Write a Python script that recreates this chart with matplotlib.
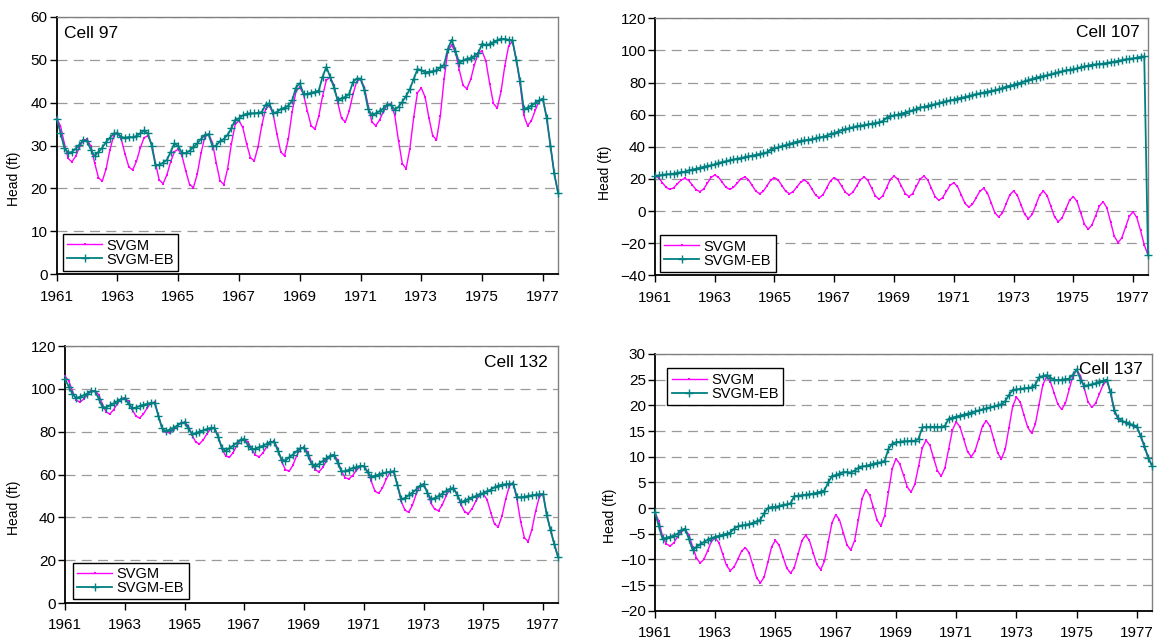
import numpy as np
import matplotlib.pyplot as plt

plt.rcParams['font.family'] = ['Liberation Sans', 'DejaVu Sans']

# sample times: 8 per year, Jan 1961 .. mid 1977
t = 1961 + np.arange(133) / 8.0

svgm_97 = [36.3, 34.6, 30.5, 27.0, 26.2, 27.5, 29.6, 31.2,
           31.5, 29.8, 25.9, 22.5, 21.7, 24.5, 28.9, 32.3,
           33.0, 31.5, 28.0, 25.0, 24.3, 26.3, 29.4, 31.8,
           32.3, 30.4, 25.9, 22.0, 21.1, 23.1, 26.2, 28.6,
           29.1, 27.6, 24.0, 20.9, 20.2, 23.3, 28.2, 32.0,
           32.7, 30.7, 26.0, 21.8, 20.9, 24.6, 30.4, 34.9,
           35.8, 34.2, 30.4, 27.2, 26.4, 29.6, 34.7, 38.5,
           39.3, 37.3, 32.6, 28.5, 27.6, 31.6, 37.8, 42.6,
           43.6, 41.9, 38.0, 34.6, 33.8, 36.8, 41.5, 45.2,
           45.9, 44.1, 40.0, 36.3, 35.5, 38.0, 41.9, 44.9,
           45.5, 43.6, 39.3, 35.5, 34.6, 35.9, 37.9, 39.4,
           39.7, 37.1, 31.1, 25.8, 24.6, 29.3, 36.6, 42.3,
           43.4, 41.3, 36.5, 32.3, 31.3, 36.8, 45.4, 52.1,
           53.4, 51.7, 47.6, 44.0, 43.2, 45.4, 48.8, 51.5,
           52.0, 49.7, 44.4, 39.8, 38.7, 42.6, 48.6, 53.2,
           54.3, 50.0, 44.5, 37.0, 34.6, 35.8, 38.2, 40.3,
           40.9, 36.5, 30.0, 23.5, 19.0]
eb_97 = [36.2, 33.0, 29.5, 28.3, 28.5, 29.3, 30.2, 31.3,
         31.0, 29.0, 27.6, 28.5, 29.5, 30.8, 31.8, 32.8,
         32.8, 32.0, 31.8, 32.0, 31.9, 32.2, 32.8, 33.5,
         32.8, 30.0, 25.5, 25.5, 26.0, 26.6, 28.5, 30.5,
         29.8, 28.3, 28.2, 28.8, 29.6, 30.5, 31.5, 32.5,
         32.6, 29.8, 30.0, 31.0, 31.5, 32.5, 34.0, 36.0,
         36.3, 37.0, 37.4, 37.5, 37.5, 37.6, 37.8, 39.5,
         39.8, 37.5, 37.8, 38.5, 38.8, 39.3, 40.5, 43.5,
         44.5, 42.0, 42.0, 42.3, 42.5, 42.8, 46.0, 48.3,
         46.0, 43.5, 40.5, 41.0, 41.3, 42.0, 44.8, 45.6,
         45.6, 43.0, 38.5, 37.0, 37.5, 38.0, 38.6, 39.5,
         39.5, 38.3, 39.0, 40.2, 41.5, 43.2, 45.5, 47.8,
         47.5, 47.0, 47.2, 47.3, 47.5, 48.2, 48.8, 52.5,
         54.6, 52.0, 49.2, 49.8, 50.2, 50.4, 50.8, 51.5,
         53.7, 53.4, 53.6, 54.0, 54.5, 54.9, 54.8, 54.6,
         54.5, 50.0, 45.0, 38.5, 38.8, 39.3, 39.9, 40.5,
         40.9, 36.5, 30.0, 23.5, 19.0]

svgm_107 = [21.8, 20.6, 17.7, 14.7, 13.5, 14.5, 16.9, 19.3,
            20.3, 19.1, 16.2, 13.3, 12.1, 13.6, 17.3, 20.9,
            22.4, 21.1, 18.0, 14.8, 13.5, 14.7, 17.4, 20.0,
            21.2, 19.6, 16.0, 12.4, 10.8, 12.3, 15.8, 19.3,
            20.8, 19.3, 15.8, 12.3, 10.8, 12.1, 15.1, 18.0,
            19.3, 17.7, 13.8, 9.9, 8.3, 10.2, 14.6, 18.9,
            20.8, 19.2, 15.4, 11.6, 10.0, 11.7, 15.6, 19.5,
            21.2, 19.1, 14.3, 9.4, 7.3, 9.5, 14.6, 19.6,
            21.8, 19.9, 15.4, 10.9, 9.0, 10.9, 15.4, 19.9,
            21.8, 19.5, 14.3, 9.0, 6.7, 8.3, 12.2, 16.0,
            17.6, 15.3, 10.1, 4.8, 2.5, 4.2, 8.3, 12.4,
            14.1, 11.4, 5.2, -1.0, -3.7, -1.3, 4.4, 10.1,
            12.5, 9.9, 3.9, -2.1, -4.7, -2.1, 3.9, 9.9,
            12.5, 9.6, 3.0, -3.7, -6.6, -4.3, 1.2, 6.7,
            9.0, 6.0, -1.2, -8.3, -11.3, -8.7, -2.8, 3.2,
            5.8, 2.0, -6.9, -15.8, -19.6, -16.7, -10.0, -3.3,
            -0.4, -4.0, -12.0, -21.0, -27.5]
eb_107 = [21.8, 22.2, 22.5, 22.8, 23.0, 23.3, 23.8, 24.2,
          24.5, 25.3, 25.8, 26.3, 27.0, 27.5, 28.0, 28.5,
          29.0, 30.0, 30.5, 31.0, 31.6, 32.1, 32.6, 33.0,
          33.5, 34.0, 34.5, 35.0, 35.5, 36.0, 36.5, 38.3,
          39.0, 39.6, 40.5, 41.0, 41.8, 42.5, 43.2, 43.6,
          44.0, 44.3, 44.8, 45.3, 45.8, 46.2, 47.0, 48.0,
          48.5, 49.5, 50.5, 51.0, 51.6, 52.2, 52.8, 53.2,
          53.5, 54.0, 54.4, 54.8, 55.3, 56.0, 58.0, 59.0,
          59.5, 60.0, 60.7, 61.3, 62.0, 62.6, 63.5, 64.5,
          64.8, 65.5, 66.0, 66.6, 67.2, 67.8, 68.4, 68.9,
          69.3, 70.0, 70.5, 71.0, 71.6, 72.2, 72.8, 73.3,
          73.8, 74.3, 74.8, 75.2, 75.8, 76.5, 77.5, 78.0,
          78.5, 79.3, 80.0, 80.8, 81.5, 82.3, 83.0, 83.6,
          84.0, 84.6, 85.2, 85.8, 86.4, 87.0, 87.6, 88.0,
          88.3, 88.8, 89.5, 90.0, 90.6, 91.0, 91.3, 91.6,
          91.8, 92.2, 92.6, 93.0, 93.5, 94.0, 94.4, 94.7,
          95.0, 95.5, 96.0, 96.3, -27.5]

svgm_132 = [105.8, 103.8, 99.0, 94.8, 93.8, 95.2, 97.3, 98.9,
            99.2, 97.3, 93.0, 89.2, 88.3, 90.2, 93.1, 95.4,
            95.8, 94.2, 90.4, 87.2, 86.4, 88.3, 91.1, 93.4,
            93.8, 87.5, 81.5, 79.8, 79.5, 80.7, 82.6, 84.1,
            84.4, 82.7, 78.6, 75.1, 74.3, 76.2, 79.0, 81.3,
            81.7, 78.0, 72.0, 68.8, 68.0, 70.2, 73.5, 76.1,
            76.6, 75.2, 71.9, 69.0, 68.3, 70.1, 72.9, 75.1,
            75.5, 72.0, 66.0, 62.3, 61.5, 64.3, 68.7, 72.0,
            72.7, 70.5, 65.8, 62.2, 61.3, 63.3, 66.4, 68.8,
            69.3, 66.8, 61.5, 58.6, 57.9, 59.5, 61.9, 63.7,
            64.1, 61.5, 56.8, 52.2, 51.2, 53.8, 57.8, 60.9,
            61.5, 55.0, 47.5, 43.5, 42.3, 45.6, 50.7, 54.7,
            55.5, 52.0, 46.5, 43.8, 43.1, 45.8, 49.9, 53.1,
            53.7, 51.0, 46.0, 42.6, 41.8, 44.1, 47.6, 50.4,
            50.9, 48.3, 42.2, 36.8, 35.6, 40.7, 48.6, 54.7,
            55.9, 48.5, 38.0, 30.5, 28.7, 34.3, 42.9, 49.6,
            50.9, 41.0, 34.0, 27.5, 21.5]
eb_132 = [104.8, 101.0, 97.5, 95.8, 96.3, 97.0, 97.8, 98.8,
          99.0, 95.5, 91.5, 91.3, 92.3, 93.2, 94.2, 95.2,
          95.6, 93.0, 91.0, 91.3, 92.0, 92.6, 93.0, 93.5,
          93.5, 87.5, 81.5, 80.3, 81.0, 81.8, 82.8, 84.0,
          84.3, 81.5, 79.0, 79.3, 80.0, 80.6, 81.3, 81.8,
          81.8, 77.5, 72.5, 71.0, 72.3, 73.5, 74.8, 76.3,
          76.5, 73.5, 71.8, 72.0, 72.8, 73.5, 74.3, 75.2,
          75.4, 71.0, 67.0, 66.5, 68.0, 69.3, 70.8, 72.3,
          72.6, 69.0, 65.0, 64.0, 65.0, 66.3, 67.5, 68.8,
          69.2, 65.5, 61.5, 61.5, 62.3, 63.0, 63.5, 64.0,
          64.0, 61.0, 59.0, 59.5, 60.0, 60.5, 61.0, 61.3,
          61.5, 55.0, 48.5, 49.0, 50.3, 51.5, 53.0, 54.8,
          55.5, 51.5, 48.5, 49.0, 50.0, 51.0, 52.3, 53.3,
          53.6, 50.5, 47.0, 47.8, 48.5, 49.3, 50.0, 50.8,
          51.3, 52.2, 53.0, 54.0, 54.8, 55.3, 55.5, 55.7,
          55.8, 49.5, 49.3, 49.6, 50.0, 50.3, 50.6, 50.8,
          50.9, 41.0, 34.0, 27.5, 21.5]

svgm_137 = [-0.9, -2.5, -5.5, -7.0, -7.4, -6.8, -5.6, -4.6,
            -4.2, -5.2, -7.5, -9.7, -10.7, -10.0, -8.3, -6.5,
            -5.8, -6.8, -9.0, -11.2, -12.2, -11.5, -10.0, -8.4,
            -7.7, -8.7, -11.2, -13.6, -14.6, -13.4, -10.5, -7.5,
            -6.3, -7.3, -9.5, -11.7, -12.7, -11.6, -9.0, -6.4,
            -5.3, -6.3, -8.7, -11.0, -12.0, -10.4, -6.7, -2.9,
            -1.3, -2.3, -4.8, -7.2, -8.2, -6.4, -2.3, 1.8,
            3.6, 2.5, 0.1, -2.4, -3.5, -1.5, 3.1, 7.6,
            9.6, 8.6, 6.4, 4.1, 3.1, 4.6, 8.2, 11.7,
            13.2, 12.2, 9.7, 7.3, 6.2, 7.8, 11.5, 15.2,
            16.8, 15.8, 13.4, 11.0, 10.0, 11.1, 13.5, 16.0,
            17.0, 15.9, 13.3, 10.7, 9.6, 11.4, 15.6, 19.8,
            21.6, 20.6, 18.1, 15.7, 14.6, 16.3, 20.1, 24.0,
            25.6, 24.6, 22.4, 20.2, 19.2, 20.4, 23.1, 25.7,
            26.9, 25.8, 23.3, 20.7, 19.6, 20.4, 22.2, 24.0,
            24.8, 22.3, 18.8, 17.3, 16.9, 16.6, 16.3, 16.0,
            15.7, 13.9, 11.9, 9.7, 8.2]
eb_137 = [-0.8, -3.5, -6.0, -5.8, -5.6, -5.4, -5.0, -4.3,
          -4.0, -6.0, -8.2, -7.6, -7.1, -6.6, -6.2, -5.9,
          -5.6, -5.4, -5.2, -5.0, -4.8, -4.0, -3.6, -3.4,
          -3.3, -3.1, -2.9, -2.6, -2.3, -1.0, 0.0, 0.2,
          0.2, 0.4, 0.6, 0.7, 0.9, 2.3, 2.4, 2.5,
          2.6, 2.7, 2.8, 3.0, 3.2, 3.4, 5.0, 6.2,
          6.4, 6.7, 7.0, 7.0, 6.9, 7.3, 7.8, 8.1,
          8.2, 8.4, 8.6, 8.8, 8.9, 9.2, 11.5, 12.5,
          12.8, 12.9, 13.0, 13.0, 13.1, 13.1, 13.5, 15.7,
          15.8, 15.8, 15.8, 15.8, 15.8, 16.0, 17.4, 17.6,
          17.8, 18.0, 18.2, 18.4, 18.6, 18.8, 19.0, 19.2,
          19.4, 19.6, 19.8, 20.0, 20.2, 20.8, 22.0, 23.0,
          23.1, 23.2, 23.3, 23.4, 23.5, 24.0, 25.5, 25.7,
          25.9, 25.4, 25.0, 24.9, 25.0, 25.1, 25.2, 26.0,
          27.0, 25.0, 23.8, 23.9, 24.1, 24.3, 24.6, 24.8,
          25.0, 22.5, 19.0, 17.5, 17.0, 16.7, 16.4, 16.2,
          15.8, 14.0, 12.0, 9.8, 8.2]

xticks = list(range(1961, 1978, 2))

panels = [
    # rect, svgm, eb, title, title pos, ha, ylim, ystep, legend anchor, legend loc, ylabel x, ylabel y
    ([0.049, 0.5727, 0.4333, 0.4013], svgm_97, eb_97, 'Cell 97', (0.015, 0.965), 'left',
     (0, 60), 10, (0.012, 0.013), 'lower left', -0.071, 0.37),
    ([0.5661, 0.5712, 0.4261, 0.4003], svgm_107, eb_107, 'Cell 107', (0.984, 0.975), 'right',
     (-40, 120), 20, (0.010, 0.013), 'lower left', -0.088, 0.40),
    ([0.0562, 0.0607, 0.4261, 0.4003], svgm_132, eb_132, 'Cell 132', (0.98, 0.965), 'right',
     (0, 120), 20, (0.016, 0.014), 'lower left', -0.089, 0.37),
    ([0.5661, 0.0488, 0.4296, 0.3998], svgm_137, eb_137, 'Cell 137', (0.982, 0.969), 'right',
     (-20, 30), 5, (0.025, 0.944), 'upper left', -0.076, 0.37),
]

fig = plt.figure(figsize=(11.57, 6.42), dpi=100)

for rect, sv, eb, title, tpos, ha, ylim, ystep, lanchor, lloc, ylx, yly in panels:
    ax = fig.add_axes(rect)
    ax.plot(t, sv, color='#FF00FF', lw=1.0, marker='s', ms=1.9, mew=0,
            label='SVGM', clip_on=False, zorder=3)
    ax.plot(t, eb, color='#008080', lw=1.3, marker='+', ms=5.5, mew=1.0,
            label='SVGM-EB', clip_on=False, zorder=4)
    ax.set_xlim(1961, 1977.5)
    ax.set_ylim(*ylim)
    ax.set_xticks(xticks)
    ax.set_yticks(np.arange(ylim[0], ylim[1] + 1, ystep))
    ax.yaxis.grid(True, linestyle=(0, (8, 5)), color='#9a9a9a', lw=0.9)
    ax.set_axisbelow(True)
    for s in ['top', 'right']:
        ax.spines[s].set_color('#808080')
        ax.spines[s].set_linewidth(1.0)
    for s in ['left', 'bottom']:
        ax.spines[s].set_color('black')
        ax.spines[s].set_linewidth(1.3)
    ax.tick_params(axis='x', direction='out', length=5, width=1, pad=6, labelsize=11)
    ax.tick_params(axis='y', direction='out', length=5, width=1, pad=1.5, labelsize=11)
    ax.set_ylabel('Head (ft)', fontsize=10)
    ax.yaxis.set_label_coords(ylx, yly)
    ax.text(tpos[0], tpos[1], title, transform=ax.transAxes, ha=ha, va='top',
            fontsize=12.5, zorder=5)
    leg = ax.legend(loc=lloc, bbox_to_anchor=lanchor, borderaxespad=0,
                    fontsize=10.5, handlelength=2.4, handletextpad=0.3,
                    labelspacing=0.0, borderpad=0.3, fancybox=False,
                    framealpha=1, edgecolor='black')
    leg.get_frame().set_linewidth(1.0)

fig.savefig('out.png', dpi=100, facecolor='white')
